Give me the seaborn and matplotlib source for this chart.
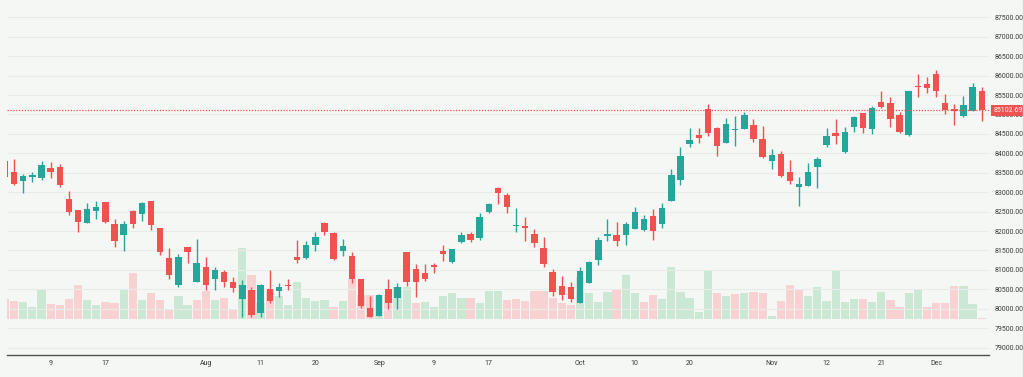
import numpy as np
import pandas as pd
import matplotlib
matplotlib.use("Agg")
import matplotlib.pyplot as plt
from matplotlib.lines import Line2D
import matplotlib.transforms as mtrans
import seaborn as sns

# ---------------- data ----------------
opens = [83790, 83528, 83297, 83391, 83366, 83614, 83649, 82817, 82534, 82216,
         82525, 82748, 82182, 81899, 82516, 82439, 82774, 82070, 81307, 80604,
         81582, 80690, 81067, 80767, 80947, 80690, 80244, 80484, 79883, 80509,
         80466, 80621, 81324, 81298, 81641, 82216, 81942, 81487, 81367, 80758,
         80012, 79823, 80509, 80269, 81453, 81015, 80912, 81127, 81496, 81195,
         81727, 81916, 81830, 82482, 83100, 82937, 82139, 82139, 81916, 81573,
         80955, 80595, 80552, 80158, 80672, 81255, 81873, 81907, 81890, 82053,
         82028, 82396, 82173, 82782, 83314, 84240, 84472, 85132, 84643, 84274,
         84610, 84626, 84729, 84368, 83811, 83982, 83511, 83125, 83168, 83656,
         84214, 84514, 84042, 84686, 85029, 84617, 85329, 85303, 84986, 84471,
         85741, 85783, 86041, 85303, 85137, 84961, 85089, 85604]
highs = [83850, 83846, 83468, 83511, 83803, 83769, 83717, 83031, 82540, 82731,
         82774, 82760, 82311, 82259, 82530, 82757, 82785, 82080, 81556, 81410,
         81599, 81796, 81324, 81084, 80998, 80818, 80741, 80552, 80638, 80998,
         80672, 80758, 81770, 81744, 81967, 82230, 81985, 81787, 81453, 80770,
         80329, 80380, 80767, 80655, 81465, 81153, 81153, 81170, 81641, 81550,
         81985, 81985, 82456, 82714, 83142, 82988, 82585, 82370, 82045, 81839,
         81015, 80844, 80698, 81067, 81230, 81839, 82302, 82242, 82242, 82628,
         82422, 82568, 82714, 83588, 84154, 84643, 84643, 85269, 84686, 84901,
         84961, 85072, 84883, 84703, 84102, 84060, 83828, 83382, 83742, 83914,
         84643, 84883, 84686, 84960, 85040, 85217, 85603, 85458, 85072, 85610,
         86041, 85955, 86144, 85526, 85260, 85475, 85801, 85698]
lows = [83380, 83177, 82988, 83254, 83314, 83366, 83125, 82413, 81985, 82210,
        82319, 82216, 81590, 81496, 82088, 82268, 82028, 81376, 80758, 80570,
        81170, 80690, 80492, 80492, 80552, 80441, 79790, 79780, 79780, 80158,
        80312, 80484, 81187, 81290, 81487, 81899, 81255, 81358, 80672, 80012,
        79780, 79810, 79995, 79995, 80587, 80312, 80724, 80912, 81230, 81185,
        81684, 81710, 81770, 82475, 82696, 82456, 81985, 81753, 81581, 81084,
        80329, 80226, 80166, 80150, 80655, 81127, 81753, 81624, 81641, 82045,
        82010, 81770, 82070, 82775, 83185, 84172, 84257, 84446, 83931, 84270,
        84189, 84620, 84283, 83890, 83588, 83399, 83210, 82653, 83160, 83116,
        84154, 84231, 83999, 84557, 84531, 84497, 85157, 84686, 84514, 84454,
        85440, 85560, 85458, 85012, 84740, 84944, 85089, 84841]
closes = [83400, 83203, 83426, 83434, 83700, 83529, 83177, 82482, 82233, 82559,
          82619, 82233, 81736, 82182, 82173, 82714, 82165, 81453, 80878, 81324,
          81470, 81170, 80604, 80998, 80698, 80544, 80615, 79836, 80604, 80209,
          80552, 80578, 81256, 81641, 81856, 81985, 81281, 81624, 80767, 80072,
          79797, 80363, 80140, 80552, 80698, 80690, 80767, 81084, 81410, 81539,
          81899, 81762, 82371, 82688, 82988, 82611, 82156, 82088, 81684, 81144,
          80423, 80355, 80252, 80981, 81213, 81770, 81916, 81753, 82173, 82482,
          82311, 82002, 82585, 83443, 83931, 84343, 84403, 84532, 84197, 84755,
          84625, 84986, 84368, 83897, 83957, 83425, 83296, 83210, 83528, 83854,
          84440, 84450, 84557, 84926, 84660, 85157, 85200, 84883, 84557, 85603,
          85698, 85672, 85612, 85114, 85085, 85244, 85698, 85102.69]
volumes = [20, 18.3, 16.7, 12, 29, 15, 14, 20, 34, 19,
           14, 16.7, 15.7, 29, 45.7, 19, 26.3, 19, 9.7, 23.3,
           14, 19, 28, 19, 20.7, 10.3, 70.7, 44, 15.7, 30,
           23, 14, 36.7, 20.7, 18, 19, 12.3, 18.3, 39.7, 24,
           24, 24, 24, 31.7, 31.7, 15.7, 17, 12.3, 23, 25.7,
           20.7, 20.7, 16, 28.3, 28.3, 19, 19.7, 18, 28.3, 28.3,
           20.7, 16.3, 14, 42.3, 26.3, 16.7, 26.7, 29, 44, 26.3,
           17.3, 24, 20, 51.7, 27.3, 20.7, 6.7, 48.3, 26.3, 23,
           24.7, 26.3, 26.7, 25.7, 3, 18, 33.7, 30.3, 23, 31.7,
           17.7, 48.3, 17, 20.3, 20.3, 17, 26.7, 19, 12, 26.3,
           30.3, 12, 16, 15.7, 33.3, 33.5, 15, 1]
tick_pos = [5, 11, 22, 28, 34, 41, 47, 53, 63, 69, 75, 84, 90, 96, 102]
tick_labels = ["9", "17", "Aug", "11", "20", "Sep", "9", "17", "Oct",
               "10", "20", "Nov", "12", "21", "Dec"]
price_ticks = list(range(79000, 87501, 500))
last_price = 85102.69

# ---------------- style ----------------
UP = "#26a69a"
DOWN = "#ef5350"
VUP = "#cae8d4"
VDOWN = "#f8d2d3"
BG = "#f5f7f5"
GRID = "#e8ebe8"
TXT = "#3a3a3a"

sns.set_theme(style="white")
plt.rcParams["font.family"] = ["Roboto", "DejaVu Sans"]

W, H = 1024, 377
fig = plt.figure(figsize=(W / 100, H / 100), dpi=100)
fig.patch.set_facecolor(BG)
pos = [7 / W, (H - 355) / H, (989 - 7) / W, 355 / H]

n = len(closes)
idx = np.arange(n)
o = np.array(opens, float)
h = np.array(highs, float)
l = np.array(lows, float)
c = np.array(closes, float)

# volume panel (behind)
axv = fig.add_axes(pos)
axv.set_facecolor(BG)
vdir = ["down"] + ["up" if c[i] >= c[i - 1] else "down" for i in range(1, n)]
dfv = pd.DataFrame({"idx": idx, "vol": volumes, "dir": vdir})
sns.barplot(data=dfv, x="idx", y="vol", hue="dir",
            palette={"up": VUP, "down": VDOWN}, native_scale=True,
            width=0.9, saturation=1, errorbar=None, legend=False,
            dodge=False, linewidth=0, ax=axv)
axv.set_ylim(-36, 319)
axv.set_xlim(0.22, 107.8)
axv.set_xlabel("")
axv.set_ylabel("")
axv.set_xticks([])
axv.set_yticks([])
for s in axv.spines.values():
    s.set_visible(False)

# price panel (front)
ax = fig.add_axes(pos)
ax.patch.set_alpha(0)
ax.set_xlim(0.22, 107.8)
ax.set_ylim(78811, 87945)

for p in price_ticks:
    ax.axhline(p, color=GRID, lw=0.8, zorder=0)

up = c >= o
colors = np.where(up, UP, DOWN)
ax.vlines(idx, l, h, colors=colors, lw=1.0, zorder=2)
body_low = np.minimum(o, c)
body_h = np.maximum(np.abs(c - o), 28)
ax.bar(idx, body_h, bottom=body_low, width=0.7, color=colors,
       linewidth=0, zorder=3)

ax.axhline(last_price, color=DOWN, lw=0.9, ls=(0, (1, 1.3)), zorder=4)

for k in ["top", "left", "right"]:
    ax.spines[k].set_visible(False)
ax.spines["bottom"].set_color("#505050")
ax.spines["bottom"].set_linewidth(1.0)

ax.set_xticks(tick_pos, tick_labels)
ax.tick_params(axis="x", length=0, pad=3.5, labelsize=5, colors=TXT)
ax.yaxis.tick_right()
ax.set_yticks(price_ticks, [f"{p:.2f}" for p in price_ticks])
ax.tick_params(axis="y", length=0, pad=3.8, labelsize=5, colors=TXT)
for t in ax.get_yticklabels():
    t.set_horizontalalignment("left")

trans = mtrans.blended_transform_factory(ax.transAxes, ax.transData)
ax.text(1.0 + 4.5 / (989 - 7), last_price, f"{last_price:.2f}", transform=trans,
        ha="left", va="center", fontsize=5, color="white", zorder=6,
        bbox=dict(boxstyle="square,pad=0.35", fc=DOWN, ec="none"),
        clip_on=False)

fig.add_artist(Line2D([1022.5 / W] * 2, [0, 1], color="#d3d5dc", lw=1.0))

fig.savefig("out.png", dpi=100, facecolor=BG)
